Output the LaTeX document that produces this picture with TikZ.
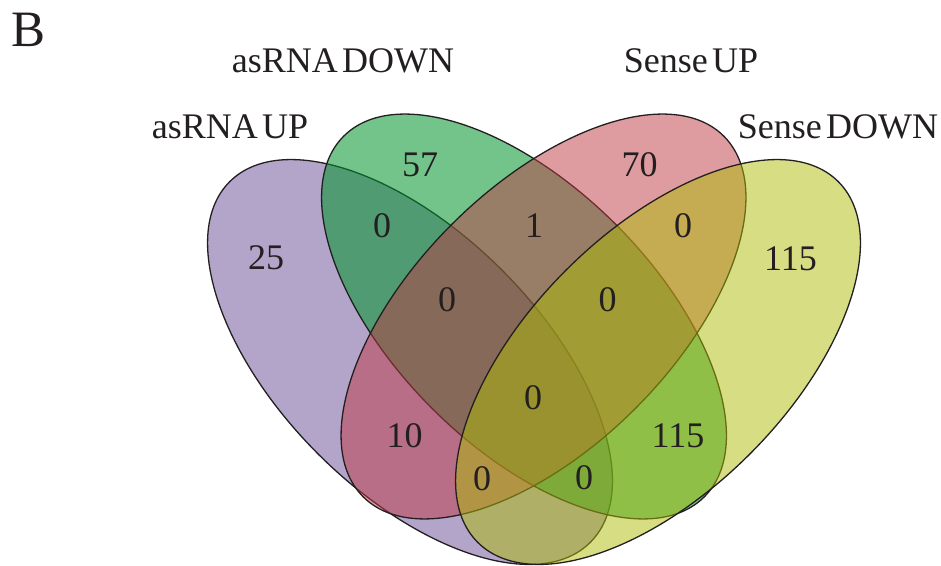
\documentclass[tikz,border=0pt]{standalone}
\usepackage{fontspec}
\setmainfont{Liberation Serif}
\definecolor{cpurple}{RGB}{103,75,149}
\definecolor{cgreen}{RGB}{0,148,42}
\definecolor{cred}{RGB}{189,57,67}
\definecolor{cyellow}{RGB}{173,187,5}
\definecolor{ink}{RGB}{35,31,32}
\newcommand{\gap}{\hspace{0.12em}}
\tikzset{
  vennset/.style={draw=ink, line width=1.3pt, fill opacity=0.5},
  setlabel/.style={anchor=base, inner sep=0pt, text=ink, font=\fontsize{36}{40}\selectfont},
  count/.style={anchor=center, inner sep=0pt, text=ink, font=\fontsize{36}{40}\selectfont}
}
\begin{document}
\begin{tikzpicture}[x=1pt,y=1pt]
\useasboundingbox (0,0) rectangle (941,565);
% ellipses
\draw[vennset, fill=cpurple, shift={(410,203)}, rotate=-45] (0,0) ellipse [x radius=255pt, y radius=130pt];
\draw[vennset, fill=cgreen, fill opacity=0.55, shift={(524,248.5)}, rotate=-45] (0,0) ellipse [x radius=255pt, y radius=130pt];
\draw[vennset, fill=cred, shift={(543.5,248.5)}, rotate=45] (0,0) ellipse [x radius=255pt, y radius=130pt];
\draw[vennset, fill=cyellow, shift={(658,203)}, rotate=45] (0,0) ellipse [x radius=255pt, y radius=130pt];
% panel letter
\node[anchor=base west, inner sep=0pt, text=ink, font=\fontsize{51}{56}\selectfont] (panel) at (11,518) {B};
% set labels
\node[setlabel] (lasdown) at (343,492) {asRNA\gap DOWN};
\node[setlabel] (lasup) at (230,426) {asRNA\gap UP};
\node[setlabel] (lsup) at (691,492) {Sense\gap UP};
\node[setlabel] (lsdown) at (838,426) {Sense\gap DOWN};
% counts
\node[count] (n1) at (266,307) {25};
\node[count] (n2) at (420,400) {57};
\node[count] (n3) at (382,339) {0};
\node[count] (n4) at (639.5,400.5) {70};
\node[count] (n5) at (534,339) {1};
\node[count] (n6) at (683,339) {0};
\node[count] (n7) at (790.5,306) {115};
\node[count] (n8) at (447,265) {0};
\node[count] (n9) at (607.5,265) {0};
\node[count] (n10) at (404.5,129) {10};
\node[count] (n11) at (533,167) {0};
\node[count] (n12) at (678,129.5) {115};
\node[count] (n13) at (482,86) {0};
\node[count] (n14) at (584,87) {0};
\end{tikzpicture}
\end{document}
